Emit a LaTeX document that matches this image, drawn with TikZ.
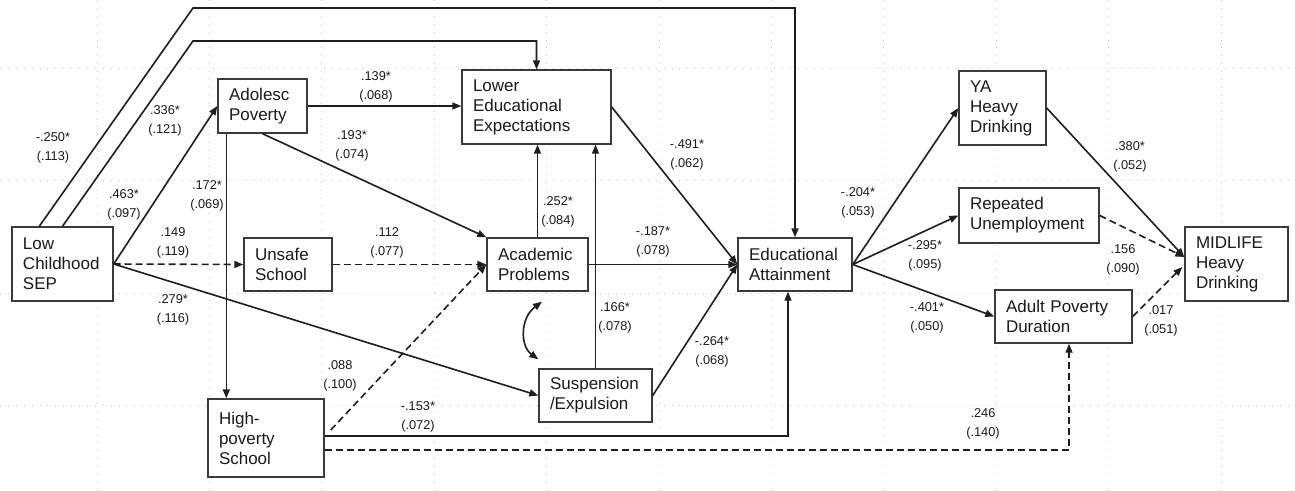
\documentclass[tikz,border=0pt]{standalone}
\usepackage{fontspec}
\setmainfont{Liberation Sans}
\usetikzlibrary{arrows.meta,calc}
\definecolor{linec}{HTML}{1E1E1E}
\definecolor{boxc}{HTML}{3A3A3A}
\definecolor{txt}{HTML}{1A1A1A}
\begin{document}
\begin{tikzpicture}[x=1pt,y=-1pt,
  box/.style={draw=boxc, line width=1.4pt, fill=white, inner xsep=11pt, inner ysep=0pt, align=left, font=\fontsize{17}{20}\selectfont, text=txt},
  lbl/.style={align=center, font=\fontsize{12.8}{19}\selectfont, text=txt, inner sep=0pt},
  con/.style={line width=1.6pt, draw=linec},
  arr/.style={con, -{Triangle[length=9pt,width=7pt]}},
  darr/.style={arr, dash pattern=on 7pt off 4pt},
  dblarr/.style={con, {Triangle[length=9pt,width=7pt]}-{Triangle[length=9pt,width=7pt]}},
  gridline/.style={gray!45, line width=0.9pt, dash pattern=on 0.9pt off 7pt}
]
\fill[white] (0,0) rectangle (1295,490);
\useasboundingbox (0,0) rectangle (1295,490);
% dotted grid
\foreach \k in {0,...,10} {\draw[gridline] ({97+112.4*\k},0) -- ({97+112.4*\k},490);}
\foreach \yy in {68,180.5,293,405.3} {\draw[gridline] (0,\yy) -- (1295,\yy);}

% nodes
\node[box, text width=79pt, minimum height=74pt] (sep) at (62.5,264) {Low\\Childhood\\SEP};
\node[box, text width=67pt, minimum height=54pt] (adol) at (262.5,106) {Adolesc\\Poverty};
\node[box, text width=66pt, minimum height=53pt] (unsafe) at (288,264.5) {Unsafe\\School};
\node[box, text width=94pt, minimum height=78pt] (hps) at (266,438) {High-\\poverty\\School};
\node[box, text width=127pt, minimum height=74pt] (lee) at (536.5,107) {Lower\\Educational\\Expectations};
\node[box, text width=79pt, minimum height=53pt] (acad) at (537.5,264.5) {Academic\\Problems};
\node[box, text width=91pt, minimum height=53pt] (susp) at (595.5,395.5) {Suspension\\/Expulsion};
\node[box, text width=92pt, minimum height=53pt] (edu) at (795,264.5) {Educational\\Attainment};
\node[box, text width=65pt, minimum height=74pt] (ya) at (1002.5,108) {YA\\Heavy\\Drinking};
\node[box, text width=118pt, minimum height=55pt] (rep) at (1029,215.5) {Repeated\\Unemployment};
\node[box, text width=115pt, minimum height=53pt] (apd) at (1063.5,316.5) {Adult Poverty\\Duration};
\node[box, text width=81pt, minimum height=74pt] (mid) at (1236.5,264) {MIDLIFE\\Heavy\\Drinking};

% helper coordinates
\coordinate (c1) at (193,8);
\coordinate (c2) at (193,41);
\coordinate (hpsA) at ($(hps.east)+(0,-2)$);
\coordinate (hpsB) at ($(hps.east)+(0,12)$);
\coordinate (hpsC) at ($(hps.east)+(6,-8)$);
\coordinate (eduS) at ($(edu.south)+(-7,0)$);
\coordinate (apdS) at ($(apd.south)+(5.5,0)$);
\coordinate (adolS) at ($(adol.south west)+(9,0)$);
\coordinate (acadA) at ($(acad.south)+(4.5,10)$);
\coordinate (suspA) at ($(susp.north west)+(0,-9)$);
\coordinate (midA) at ($(mid.west)+(0,-7)$);
\coordinate (midB) at ($(mid.west)+(-2,3)$);

% connectors
\draw[arr] ($(sep.north west)+(28,0)$) -- (c1) -| (edu.north);
\draw[arr] (sep.north) -- (c2) -| (lee.north);
\draw[arr] (sep.east) -- (adol.west);
\draw[darr] (sep.east) -- (unsafe.west);
\draw[arr] (sep.east) -- (susp.west);
\draw[arr] (adol.east) -- (adol.east -| lee.west);
\draw[arr] (adol.south) -- (acad.north west);
\draw[arr] (adolS) -- (adolS |- hps.north);
\draw[darr] (unsafe.east) -- (unsafe.east -| acad.west);
\draw[darr] (hpsC) -- (acad.west);
\draw[arr] (hpsA) -| (eduS);
\draw[darr] (hpsB) -| (apdS);
\draw[arr] (acad.north) -- (acad.north |- lee.south);
\draw[arr] (susp.north) -- (susp.north |- lee.south);
\draw[arr] (acad.east) -- (acad.east -| edu.west);
\draw[arr] (lee.east) -- (edu.west);
\draw[arr] (susp.east) -- (edu.west);
\draw[dblarr] (acadA) .. controls (520,318) and (520,346) .. (suspA);
\draw[arr] (edu.east) -- (ya.west);
\draw[arr] (edu.east) -- (rep.west);
\draw[arr] (edu.east) -- (apd.west);
\draw[arr] (ya.east) -- (midA);
\draw[darr] (rep.east) -- (midA);
\draw[darr] (apd.east) -- (midB);

% labels
\node[lbl] (l1) at (53,148) {-.250*\\(.113)};
\node[lbl] (l2) at (165,121) {.336*\\(.121)};
\node[lbl] (l3) at (124,205) {.463*\\(.097)};
\node[lbl] (l4) at (207,196) {.172*\\(.069)};
\node[lbl] (l5) at (376,87) {.139*\\(.068)};
\node[lbl] (l6) at (352,146) {.193*\\(.074)};
\node[lbl] (l7) at (173,243) {.149\\(.119)};
\node[lbl] (l8) at (387,243) {.112\\(.077)};
\node[lbl] (l9) at (173,310) {.279*\\(.116)};
\node[lbl] (l10) at (340,376) {.088\\(.100)};
\node[lbl] (l11) at (418,417) {-.153*\\(.072)};
\node[lbl] (l12) at (558,212) {.252*\\(.084)};
\node[lbl] (l13) at (687,155) {-.491*\\(.062)};
\node[lbl] (l14) at (653,242) {-.187*\\(.078)};
\node[lbl] (l15) at (615,318) {.166*\\(.078)};
\node[lbl] (l16) at (712,352) {-.264*\\(.068)};
\node[lbl] (l17) at (858,203) {-.204*\\(.053)};
\node[lbl] (l18) at (925,256) {-.295*\\(.095)};
\node[lbl] (l19) at (927,318) {-.401*\\(.050)};
\node[lbl] (l20) at (1130,157) {.380*\\(.052)};
\node[lbl] (l21) at (1123,260) {.156\\(.090)};
\node[lbl] (l22) at (1161,321) {.017\\(.051)};
\node[lbl] (l23) at (983,424) {.246\\(.140)};
\end{tikzpicture}
\end{document}
